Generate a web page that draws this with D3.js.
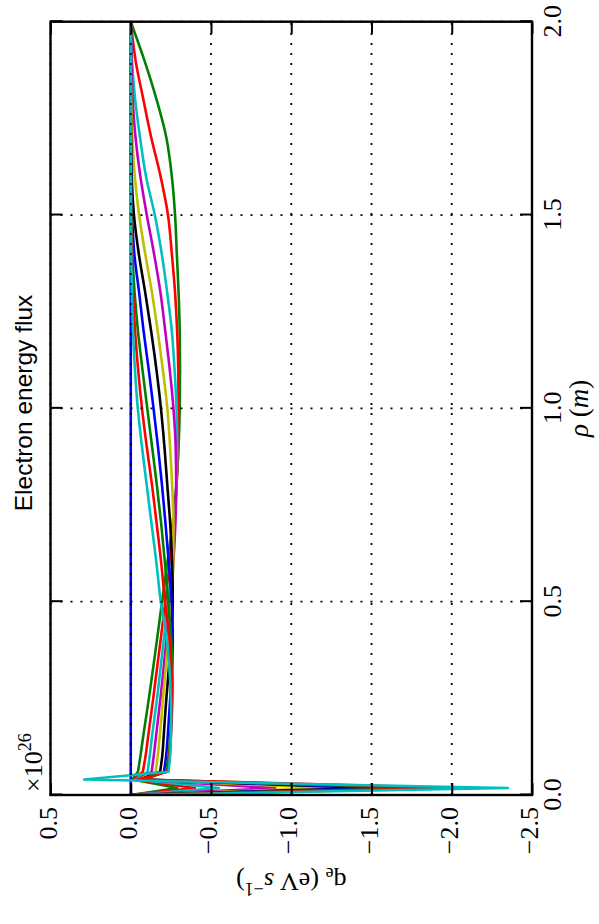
<!DOCTYPE html>
<html>
<head>
<meta charset="utf-8">
<script src="https://cdn.jsdelivr.net/npm/d3@7"></script>
<style>
  html, body { margin: 0; padding: 0; background: #fff; }
  svg { display: block; }
</style>
</head>
<body>
<svg id="chart" width="599" height="924"></svg>
<script>
// ---- data (values in units of 1e26 eV s^-1) ----
const rho = [0, 0.018, 0.04, 0.06, 0.1, 0.15, 0.2, 0.25, 0.3, 0.4, 0.5, 0.6, 0.7, 0.8, 0.9, 1.0, 1.1, 1.2, 1.3, 1.4, 1.5, 1.6, 1.7, 1.8, 1.9, 2.0];
const q0  = [0, 0, 0, 0, 0, 0, 0, 0, 0, 0, 0, 0, 0, 0, 0, 0, 0, 0, 0, 0, 0, 0, 0, 0, 0, 0];
const q1  = [0, -0.29, -0.01, -0.045, -0.06, -0.077, -0.095, -0.113, -0.13, -0.163, -0.195, -0.228, -0.26, -0.284, -0.298, -0.305, -0.307, -0.305, -0.298, -0.287, -0.276, -0.256, -0.222, -0.16, -0.085, 0];
const q2  = [0, -0.40, -0.02, -0.075, -0.092, -0.108, -0.124, -0.14, -0.155, -0.186, -0.215, -0.243, -0.268, -0.285, -0.295, -0.298, -0.296, -0.289, -0.276, -0.256, -0.232, -0.186, -0.128, -0.078, -0.03, 0];
const q3  = [0, -0.55, -0.03, -0.105, -0.118, -0.132, -0.148, -0.164, -0.178, -0.205, -0.232, -0.256, -0.274, -0.285, -0.29, -0.285, -0.273, -0.256, -0.227, -0.193, -0.15, -0.095, -0.058, -0.027, -0.008, 0];
const q4  = [0, -0.90, -0.04, -0.13, -0.143, -0.157, -0.171, -0.185, -0.198, -0.222, -0.245, -0.265, -0.278, -0.283, -0.28, -0.266, -0.243, -0.215, -0.185, -0.145, -0.1, -0.06, -0.03, -0.012, -0.004, 0];
const q5  = [0, -1.22, -0.05, -0.155, -0.168, -0.18, -0.191, -0.201, -0.212, -0.233, -0.252, -0.265, -0.266, -0.258, -0.245, -0.228, -0.2, -0.168, -0.132, -0.09, -0.052, -0.025, -0.01, -0.003, 0, 0];
const q6  = [0, -1.48, -0.06, -0.183, -0.196, -0.205, -0.213, -0.222, -0.232, -0.25, -0.262, -0.258, -0.246, -0.228, -0.21, -0.188, -0.16, -0.127, -0.09, -0.05, -0.02, -0.006, -0.002, 0, 0, 0];
const q7  = [0, -1.62, -0.07, -0.207, -0.22, -0.23, -0.238, -0.246, -0.253, -0.262, -0.255, -0.237, -0.217, -0.195, -0.17, -0.142, -0.112, -0.08, -0.052, -0.022, -0.008, -0.002, 0, 0, 0, 0];
const q8  = [0, -1.85, -0.08, -0.22, -0.235, -0.245, -0.253, -0.258, -0.26, -0.253, -0.233, -0.213, -0.19, -0.163, -0.133, -0.103, -0.073, -0.045, -0.024, -0.01, -0.004, -0.001, 0, 0, 0, 0];
const q9  = [0, -2.05, -0.05, -0.228, -0.242, -0.25, -0.256, -0.258, -0.256, -0.242, -0.213, -0.19, -0.162, -0.133, -0.1, -0.07, -0.046, -0.027, -0.014, -0.006, -0.002, 0, 0, 0, 0, 0];
const q10 = [0, -2.35, 0.29, -0.235, -0.245, -0.25, -0.252, -0.25, -0.245, -0.225, -0.187, -0.16, -0.13, -0.1, -0.07, -0.044, -0.026, -0.014, -0.007, -0.003, -0.001, 0, 0, 0, 0, 0];
const seriesList = [q0, q1, q2, q3, q4, q5, q6, q7, q8, q9, q10];
const seriesColors = ["#0000ff", "#008000", "#ff0000", "#00bfbf", "#bf00bf", "#bfbf00", "#000000", "#0000ff", "#008000", "#ff0000", "#00bfbf"];
const rhoTicks = [0, 0.5, 1.0, 1.5, 2.0];
const qTicks = [0.5, 0, -0.5, -1.0, -1.5, -2.0, -2.5];

// ---- layout: chart drawn in its natural orientation, then rotated -90deg ----
const X0 = 129, X1 = 902.3, Y0 = 50.5, Y1 = 532;

const svg = d3.select("#chart");
const g = svg.append("g").attr("transform", "translate(0,924) rotate(-90)");

const x = d3.scaleLinear().domain([0, 2]).range([X0, X1]);
const y = d3.scaleLinear().domain([0.5, -2.5]).range([Y0, Y1]);

g.append("clipPath").attr("id", "plotclip")
  .append("rect").attr("x", X0).attr("y", Y0).attr("width", X1 - X0).attr("height", Y1 - Y0);

// data lines: sharp (linear) through the edge spikes, smooth beyond
const pts = s => s.map((v, i) => [rho[i], v]);
const lineLin = d3.line().x(d => x(d[0])).y(d => y(d[1])).curve(d3.curveLinear);
const lineSmooth = d3.line().x(d => x(d[0])).y(d => y(d[1])).curve(d3.curveMonotoneX);

const plot = g.append("g").attr("clip-path", "url(#plotclip)");
seriesList.forEach((s, i) => {
  const p = pts(s);
  const d = lineLin(p.slice(0, 4)) + lineSmooth(p.slice(3)).replace(/^M[^CLZ]*/, m => "L" + m.slice(1));
  plot.append("path")
    .attr("d", d)
    .attr("fill", "none")
    .attr("stroke", seriesColors[i])
    .attr("stroke-width", 2.6)
    .attr("stroke-linejoin", "round");
});

// grid (drawn above lines, dotted)
const grid = g.append("g");
rhoTicks.forEach(t => {
  grid.append("line").attr("x1", x(t)).attr("x2", x(t)).attr("y1", Y0).attr("y2", Y1)
    .attr("stroke", "#000").attr("stroke-width", 1.8).attr("stroke-dasharray", "2,8");
});
qTicks.forEach(t => {
  grid.append("line").attr("x1", X0).attr("x2", X1).attr("y1", y(t)).attr("y2", y(t))
    .attr("stroke", "#000").attr("stroke-width", 1.8).attr("stroke-dasharray", "2,8");
});

// axes via d3 axis generators (inward ticks on all sides)
const tickFont = "'Liberation Serif', 'DejaVu Serif', serif";
const fmt = d => (d < 0 ? "\u2212" : "") + Math.abs(d).toFixed(1);
const TL = 12;

const axLeft = g.append("g").attr("transform", `translate(${X0},0)`)
  .call(d3.axisLeft(y).tickValues(qTicks).tickSize(-TL).tickPadding(12).tickFormat(fmt));
const axRight = g.append("g").attr("transform", `translate(${X1},0)`)
  .call(d3.axisRight(y).tickValues(qTicks).tickSize(-TL).tickFormat(""));
const axBottom = g.append("g").attr("transform", `translate(0,${Y1})`)
  .call(d3.axisBottom(x).tickValues(rhoTicks).tickSize(-TL).tickPadding(11).tickFormat(d => d.toFixed(1)));
const axTop = g.append("g").attr("transform", `translate(0,${Y0})`)
  .call(d3.axisTop(x).tickValues(rhoTicks).tickSize(-TL).tickFormat(""));

[axLeft, axRight, axBottom, axTop].forEach(a => {
  a.select(".domain").remove();
  a.selectAll(".tick line").attr("stroke", "#000").attr("stroke-width", 2);
  a.selectAll(".tick text").attr("font-family", tickFont).attr("font-size", 26).attr("fill", "#000");
});
axLeft.selectAll(".tick text").attr("dy", "0.22em");
axBottom.selectAll(".tick text").attr("dy", "0.71em");

// frame
g.append("rect").attr("x", X0).attr("y", Y0).attr("width", X1 - X0).attr("height", Y1 - Y0)
  .attr("fill", "none").attr("stroke", "#000").attr("stroke-width", 2.4);

// title
g.append("text").attr("x", 521).attr("y", 32).attr("text-anchor", "middle")
  .attr("font-family", "'Liberation Sans', Arial, sans-serif").attr("font-size", 24.5)
  .text("Electron energy flux");

// x label: rho (m)
const xl = g.append("text").attr("x", (X0 + X1) / 2).attr("y", 588).attr("text-anchor", "middle")
  .attr("font-family", tickFont).attr("font-size", 27);
xl.append("tspan").attr("font-style", "italic").text("\u03c1");
xl.append("tspan").text(" (");
xl.append("tspan").attr("font-style", "italic").text("m");
xl.append("tspan").text(")");

// y label: q_e (eV s^-1)
const yl = g.append("text").attr("transform", `translate(51,${(Y0 + Y1) / 2}) rotate(-90)`)
  .attr("text-anchor", "middle").attr("font-family", tickFont).attr("font-size", 26);
yl.append("tspan").text("q");
yl.append("tspan").attr("font-size", 18).attr("dy", 5).text("e");
yl.append("tspan").attr("dy", -5).text(" (eV ");
yl.append("tspan").attr("font-style", "italic").text("s");
yl.append("tspan").attr("font-size", 18).attr("dy", -10).text("\u22121");
yl.append("tspan").attr("dy", 10).text(")");

// offset text x10^26
const ot = g.append("text").attr("x", 132).attr("y", 42)
  .attr("font-family", tickFont).attr("font-size", 26);
ot.append("tspan").text("\u00d710");
ot.append("tspan").attr("font-size", 18).attr("dy", -11).text("26");
</script>
</body>
</html>
